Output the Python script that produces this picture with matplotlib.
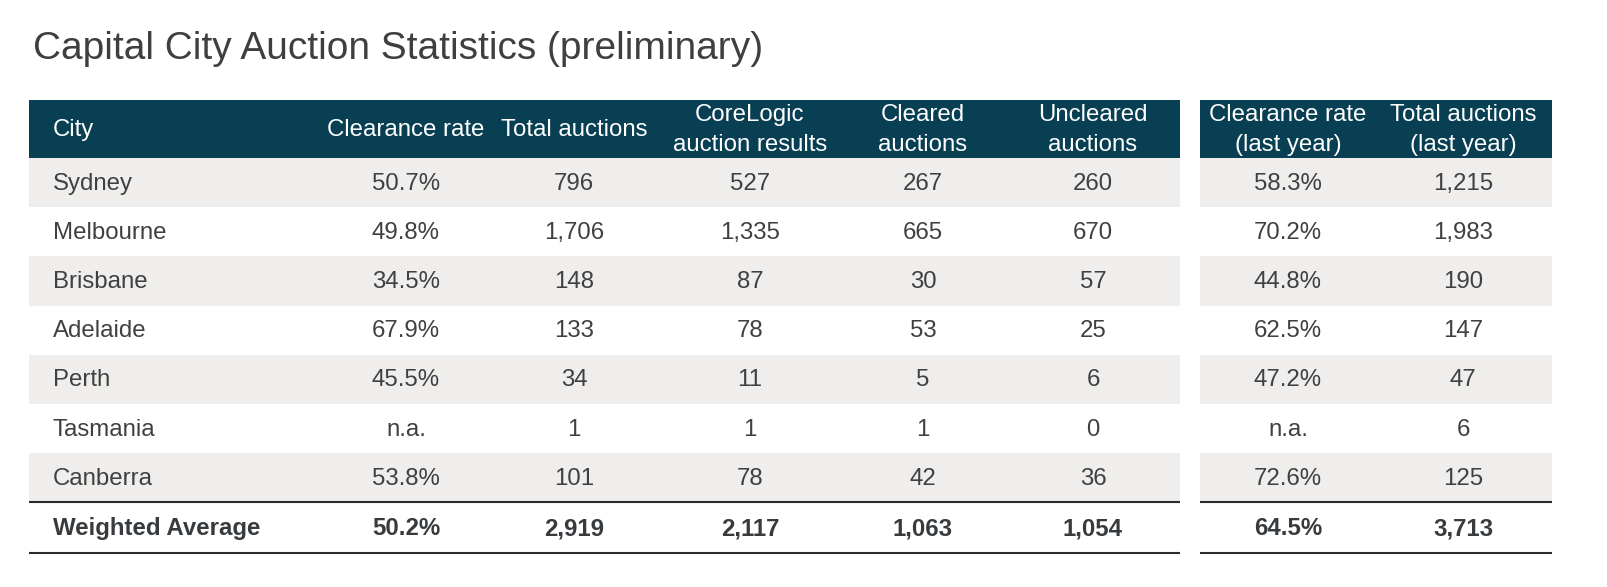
import matplotlib
matplotlib.use("Agg")
import matplotlib.pyplot as plt
from matplotlib.patches import Rectangle

title = "Capital City Auction Statistics (preliminary)"
left_headers = ["City", "Clearance rate", "Total auctions", "CoreLogic\nauction results",
                "Cleared\nauctions", "Uncleared\nauctions"]
right_headers = ["Clearance rate\n(last year)", "Total auctions\n(last year)"]
cities = ["Sydney", "Melbourne", "Brisbane", "Adelaide", "Perth", "Tasmania", "Canberra"]
clearance_rate = ["50.7%", "49.8%", "34.5%", "67.9%", "45.5%", "n.a.", "53.8%"]
total_auctions = ["796", "1,706", "148", "133", "34", "1", "101"]
corelogic_results = ["527", "1,335", "87", "78", "11", "1", "78"]
cleared = ["267", "665", "30", "53", "5", "1", "42"]
uncleared = ["260", "670", "57", "25", "6", "0", "36"]
clearance_last_year = ["58.3%", "70.2%", "44.8%", "62.5%", "47.2%", "n.a.", "72.6%"]
total_last_year = ["1,215", "1,983", "190", "147", "47", "6", "125"]
summary_label = "Weighted Average"
summary_left = ["50.2%", "2,919", "2,117", "1,063", "1,054"]
summary_right = ["64.5%", "3,713"]

W, H = 1608, 587
fig = plt.figure(figsize=(W / 100, H / 100), dpi=100)
ax = fig.add_axes([0, 0, 1, 1])
ax.set_xlim(0, W)
ax.set_ylim(H, 0)
ax.axis("off")

FONT = ["Liberation Sans", "DejaVu Sans"]
TXT = "#404040"
HDR = "#083f53"
GRAY = "#efeeec"

header_top, header_bot = 99.5, 158
row_h = 49.2
left_x0, left_x1 = 28.7, 1180
right_x0, right_x1 = 1200, 1552
city_x = 53
left_centers = [406, 574, 750, 923, 1093]
right_centers = [1288, 1463]
fs = 17.3

ax.text(33, 59, title, fontsize=28, color="#3f3f3f", family=FONT, va="baseline", ha="left")

# header
for x0, x1 in [(left_x0, left_x1), (right_x0, right_x1)]:
    ax.add_patch(Rectangle((x0, header_top), x1 - x0, header_bot - header_top, color=HDR, lw=0))
hy = (header_top + header_bot) / 2
ax.text(city_x, hy + 1, left_headers[0], fontsize=fs, color="white", family=FONT, va="center", ha="left")
for c, h in zip(left_centers, left_headers[1:]):
    ax.text(c, hy + 1, h, fontsize=fs, color="white", family=FONT,
            va="center", ha="center", linespacing=1.45)
for c, h in zip(right_centers, right_headers):
    ax.text(c, hy + 1, h, fontsize=fs, color="white", family=FONT, va="center", ha="center", linespacing=1.45)

cols_left = [clearance_rate, total_auctions, corelogic_results, cleared, uncleared]
cols_right = [clearance_last_year, total_last_year]
for i, city in enumerate(cities):
    y0 = header_bot + i * row_h
    if i % 2 == 0:
        for x0, x1 in [(left_x0, left_x1), (right_x0, right_x1)]:
            ax.add_patch(Rectangle((x0, y0), x1 - x0, row_h, color=GRAY, lw=0))
    yc = y0 + row_h / 2 + 1
    ax.text(city_x, yc, city, fontsize=fs, color=TXT, family=FONT, va="center", ha="left")
    for c, col in zip(left_centers, cols_left):
        ax.text(c, yc, col[i], fontsize=fs, color=TXT, family=FONT, va="center", ha="center")
    for c, col in zip(right_centers, cols_right):
        ax.text(c, yc, col[i], fontsize=fs, color=TXT, family=FONT, va="center", ha="center")

y_sum_top = header_bot + len(cities) * row_h
y_sum_bot = y_sum_top + 51
for y in [y_sum_top, y_sum_bot]:
    for x0, x1 in [(left_x0, left_x1), (right_x0, right_x1)]:
        ax.plot([x0, x1], [y, y], color="#2b2b2b", lw=1.5, solid_capstyle="butt")
yc = (y_sum_top + y_sum_bot) / 2 + 1
ax.text(city_x, yc, summary_label, fontsize=fs, color="#383b3e", family=FONT, va="center", ha="left", weight="bold")
for c, v in zip(left_centers, summary_left):
    ax.text(c, yc, v, fontsize=fs, color="#383b3e", family=FONT, va="center", ha="center", weight="bold")
for c, v in zip(right_centers, summary_right):
    ax.text(c, yc, v, fontsize=fs, color="#383b3e", family=FONT, va="center", ha="center", weight="bold")

fig.savefig("out.png", dpi=100, facecolor="white")
